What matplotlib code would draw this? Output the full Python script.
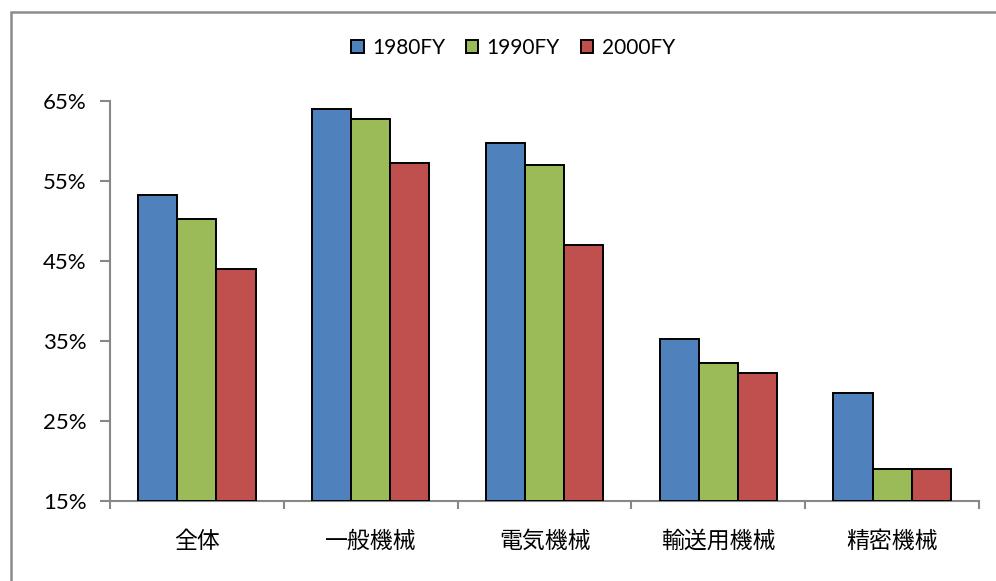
import numpy as np
import matplotlib
matplotlib.use("Agg")
import matplotlib.pyplot as plt
from matplotlib.patches import Rectangle

plt.rcParams['font.family'] = ['Lato', 'Noto Sans CJK JP', 'DejaVu Sans']

# 業種別の比率（年度別）
categories = ["全体", "一般機械", "電気機械", "輸送用機械", "精密機械"]
years = ["1980FY", "1990FY", "2000FY"]
v1980 = [53.2, 64.0, 59.7, 35.2, 28.5]
v1990 = [50.2, 62.7, 57.0, 32.3, 19.0]
v2000 = [44.0, 57.2, 47.0, 31.0, 19.0]
yticks = [15, 25, 35, 45, 55, 65]

colors = ["#4F81BD", "#9BBB59", "#C0504D"]
series = [v1980, v1990, v2000]

W, H = 996, 581
fig = plt.figure(figsize=(W / 100, H / 100), dpi=100)
ax = fig.add_axes([110 / W, (H - 501) / H, (979 - 110) / W, (501 - 101) / H])

x = np.arange(len(categories))
bw = 0.225
for i, (vals, c, lab) in enumerate(zip(series, colors, years)):
    ax.bar(x + (i - 1) * bw, np.array(vals) - 15, bottom=15, width=bw,
           color=c, edgecolor="black", linewidth=1.4, label=lab, zorder=3)

ax.set_xlim(-0.5, len(categories) - 0.5)
ax.set_ylim(15, 65)
ax.set_yticks(yticks)
ax.set_yticklabels([f"{t}%" for t in yticks], fontsize=16)

# category labels centred, tick marks on the boundaries
ax.set_xticks(x)
ax.set_xticklabels(categories, fontsize=16.5, fontfamily=['Noto Sans CJK JP'])
ax.set_xticks(np.arange(len(categories) + 1) - 0.5, minor=True)
ax.tick_params(axis="x", which="major", length=0, pad=21)
ax.tick_params(axis="x", which="minor", length=6, width=1.5, color="#888888", direction="out")
ax.tick_params(axis="y", length=7, width=1.5, color="#888888", pad=10)

for s in ["top", "right"]:
    ax.spines[s].set_visible(False)
for s in ["left", "bottom"]:
    ax.spines[s].set_color("#888888")
    ax.spines[s].set_linewidth(1.5)

leg = ax.legend(loc="center", bbox_to_anchor=(513 / W, (H - 48) / H),
                bbox_transform=fig.transFigure, ncol=3, frameon=False,
                fontsize=15, handlelength=0.6, handleheight=0.6,
                handletextpad=0.4, columnspacing=1.0)

# outer chart frame
fig.add_artist(Rectangle((10.5 / W, -0.2), 1.2, (H - 11.5) / H + 0.2,
                         transform=fig.transFigure, fill=False,
                         edgecolor="#8c8c8c", linewidth=1.8))

fig.savefig("out.png", dpi=100)
